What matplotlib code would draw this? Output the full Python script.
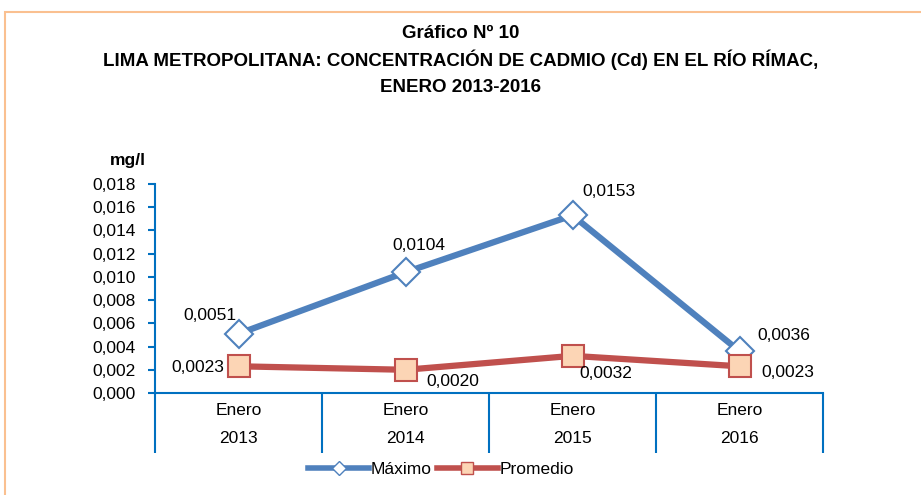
import matplotlib
matplotlib.use("Agg")
import matplotlib.pyplot as plt
from matplotlib.patches import Rectangle
from matplotlib.ticker import FuncFormatter, FixedLocator, NullFormatter
from matplotlib.lines import Line2D

plt.rcParams['font.family'] = ['Liberation Sans Narrow', 'Liberation Sans', 'DejaVu Sans']

categories = ["Enero\n2013", "Enero\n2014", "Enero\n2015", "Enero\n2016"]
maximo = [0.0051, 0.0104, 0.0153, 0.0036]
promedio = [0.0023, 0.0020, 0.0032, 0.0023]
max_labels = ["0,0051", "0,0104", "0,0153", "0,0036"]
prom_labels = ["0,0023", "0,0020", "0,0032", "0,0023"]

W, H = 921, 495
fig = plt.figure(figsize=(W/100, H/100), dpi=100)
fig.patches.append(Rectangle((5/W, -0.1), 1.2, 1 - 12/H + 0.1, transform=fig.transFigure,
                             fill=False, edgecolor='#FAC090', linewidth=1.5))

ax = fig.add_axes([155/W, 1 - 393/H, (823-155)/W, (393-184)/H])
x = list(range(len(categories)))
blue = '#4F81BD'; red = '#C0504D'; axc = '#0070C0'
ax.plot(x, maximo, color=blue, lw=4.5, marker='D', ms=14, mfc='white', mec=blue, mew=1.5, zorder=3)
ax.plot(x, promedio, color=red, lw=4.5, marker='s', ms=15.5, mfc='#FCD5B5', mec=red, mew=1.5, zorder=3)

ax.set_xlim(-0.5, 3.5)
ax.set_ylim(0, 0.018)
ax.set_yticks([i*0.002 for i in range(10)])
ax.yaxis.set_major_formatter(FuncFormatter(lambda v, p: f"{v:.3f}".replace('.', ',')))
ax.xaxis.set_major_locator(FixedLocator([-0.5, 0.5, 1.5, 2.5, 3.5]))
ax.xaxis.set_major_formatter(NullFormatter())
ax.tick_params(axis='x', length=43, width=1.5, color=axc, direction='out')
ax.tick_params(axis='y', length=5, width=1.5, color=axc, labelsize=12.5, pad=9)
for s in ['top', 'right']:
    ax.spines[s].set_visible(False)
for s in ['left', 'bottom']:
    ax.spines[s].set_color(axc)
    ax.spines[s].set_linewidth(1.5)
for i, c in enumerate(categories):
    a, b = c.split('\n')
    ax.text(i, -0.0015, a, ha='center', va='center', fontsize=12.5, clip_on=False)
    ax.text(i, -0.0039, b, ha='center', va='center', fontsize=12.5, clip_on=False)

# data labels (offsets in pixels)
moff = [(-29, 18), (13, 27), (36, 24), (44, 16)]
poff = [(-41, -1), (47, -12), (33, -18), (48, -6)]
for i in x:
    ax.annotate(max_labels[i], (i, maximo[i]), xytext=moff[i], textcoords='offset pixels',
                ha='center', va='center', fontsize=12.5)
    ax.annotate(prom_labels[i], (i, promedio[i]), xytext=poff[i], textcoords='offset pixels',
                ha='center', va='center', fontsize=12.5)

fig.text(128/W, 1 - 160/H, "mg/l", ha='center', va='center', fontsize=12.5, fontweight='bold')

fig.text(0.5, 1 - 34/H, "Gráfico Nº 10", ha='center', va='center', fontsize=13.5, fontweight='bold')
fig.text(0.5, 1 - 60/H, "LIMA METROPOLITANA: CONCENTRACIÓN DE CADMIO (Cd) EN EL RÍO RÍMAC,",
         ha='center', va='center', fontsize=13.5, fontweight='bold')
fig.text(0.5, 1 - 87/H, "ENERO 2013-2016", ha='center', va='center', fontsize=13.5, fontweight='bold')

h1 = Line2D([], [], color=blue, lw=4, marker='D', ms=7, mfc='white', mec=blue)
h2 = Line2D([], [], color=red, lw=4, marker='s', ms=9, mfc='#FCD5B5', mec=red)
fig.legend([h1, h2], ["Máximo", "Promedio"], loc='center', bbox_to_anchor=(441/W, 1 - 469/H),
           ncol=2, frameon=False, fontsize=12.5, handlelength=3.5, columnspacing=0.3, handletextpad=0.1)

fig.savefig("out.png", dpi=100)
